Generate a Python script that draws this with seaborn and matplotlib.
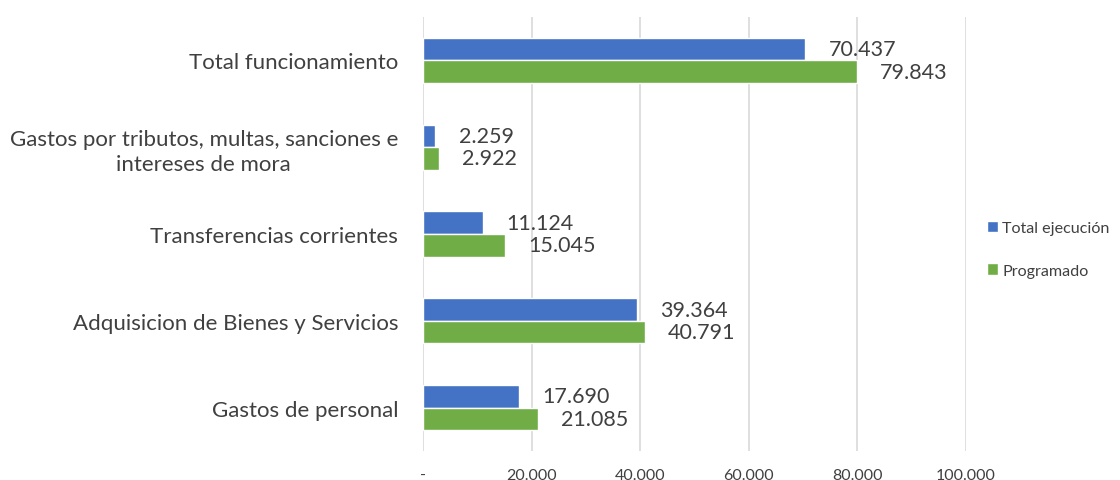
import pandas as pd
import matplotlib.pyplot as plt
import seaborn as sns

# Datos (de arriba hacia abajo)
categorias = [
    "Total funcionamiento",
    "Gastos por tributos, multas, sanciones e\nintereses de mora",
    "Transferencias corrientes",
    "Adquisicion de Bienes y Servicios",
    "Gastos de personal",
]
total_ejecucion = [70437, 2259, 11124, 39364, 17690]
programado = [79843, 2922, 15045, 40791, 21085]
series = ["Total ejecución", "Programado"]
colores = ["#4472C4", "#70AD47"]
ticks_x = [0, 20000, 40000, 60000, 80000, 100000]
ticks_lbl = ["-", "20.000", "40.000", "60.000", "80.000", "100.000"]


def fmt(v):
    return f"{v:,.0f}".replace(",", ".")


df = pd.DataFrame({
    "categoria": categorias * 2,
    "serie": [series[0]] * len(categorias) + [series[1]] * len(categorias),
    "valor": total_ejecucion + programado,
})

sns.set_theme(style="white")
plt.rcParams["font.family"] = ["Lato", "DejaVu Sans"]
texto = "#404040"

fig = plt.figure(figsize=(11.2, 4.81), dpi=100)
ax = fig.add_axes([0.3777, 0.06, 0.4848, 0.903])

sns.barplot(data=df, y="categoria", x="valor", hue="serie", order=categorias,
            hue_order=series, palette=colores, orient="h", width=0.52,
            saturation=1, ax=ax)

for cont in ax.containers:
    for bar in cont:
        w = bar.get_width()
        ax.text(w + 4300, bar.get_y() + bar.get_height() / 2, fmt(w),
                ha="left", va="center", fontsize=15.5, color=texto)

ax.set_xlim(0, 100000)
ax.set_ylim(4.5, -0.5)
ax.set_xticks(ticks_x)
ax.set_xticklabels(ticks_lbl)
ax.grid(axis="x", color="#d9d9d9", linewidth=1.2)
ax.set_axisbelow(True)
for s in ax.spines.values():
    s.set_visible(False)
ax.tick_params(axis="x", length=0, pad=12, labelsize=11.5, labelcolor=texto)
ax.tick_params(axis="y", length=0, pad=18, labelsize=16, labelcolor=texto)
for lbl in ax.get_yticklabels():
    lbl.set_multialignment("center")
    lbl.set_linespacing(1.3)
ax.set_xlabel("")
ax.set_ylabel("")

ax.legend(loc="center left", bbox_to_anchor=(1.012, 0.465), frameon=False,
          fontsize=11.6, labelspacing=1.75, handlelength=0.7, handleheight=0.75,
          handletextpad=0.25, labelcolor=texto)

fig.savefig("out.png", dpi=100)
